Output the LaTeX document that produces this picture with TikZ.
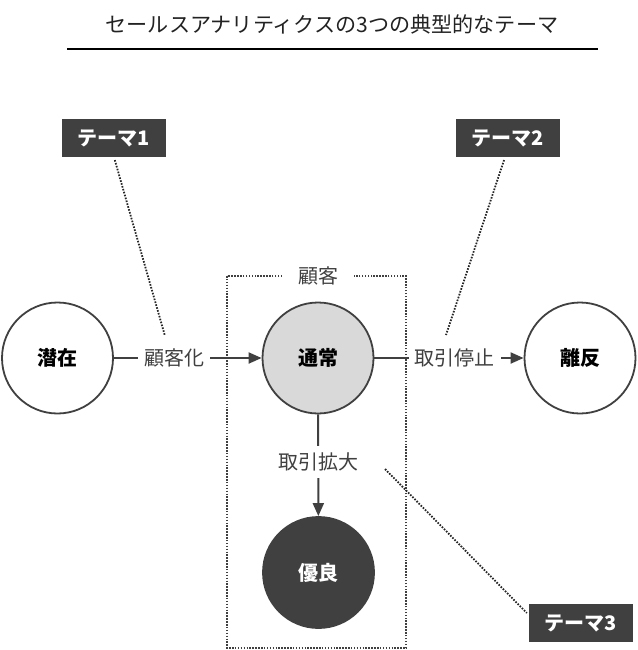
\documentclass[tikz,border=0pt]{standalone}
\usepackage{fontspec}
\setmainfont{Noto Sans CJK JP}
\usetikzlibrary{arrows.meta}
\definecolor{dk}{HTML}{404040}
\definecolor{lg}{HTML}{D9D9D9}
\definecolor{ttl}{HTML}{222222}
\begin{document}
\begin{tikzpicture}[x=1pt,y=1pt,
 circ/.style={circle,draw=dk,line width=1.8pt,minimum size=111pt,inner sep=0pt,font=\fontsize{20}{23}\selectfont\bfseries},
 themebox/.style={fill=dk,text=white,minimum width=104pt,minimum height=38pt,inner sep=0pt,font=\fontsize{20}{23}\selectfont\bfseries},
 conn/.style={draw=dk,line width=2pt,-{Triangle[length=13pt,width=11pt]}},
 lbl/.style={fill=white,text=dk,inner xsep=6pt,inner ysep=7pt,font=\fontsize{20}{23}\selectfont},
 dotline/.style={line width=1.8pt,dash pattern=on 1.6pt off 1.4pt,draw=black!85},
 dotrect/.style={line width=1.6pt,dash pattern=on 1.5pt off 1.4pt,draw=dk},
]
\useasboundingbox (0,0) rectangle (637,-650);
% title
\node[text=ttl,font=\fontsize{21.1}{25}\selectfont] (title) at (332,-24) {セールスアナリティクスの3つの典型的なテーマ};
\coordinate (r1) at (67,-49);
\coordinate (r2) at (598,-49);
\draw[line width=2pt,black] (r1) -- (r2);
% group box
\draw[dotrect] (227,-276) rectangle (406,-648);
\node[fill=white,text=dk,inner xsep=16pt,inner ysep=2pt,font=\fontsize{20}{23}\selectfont] (grp) at (318,-276) {顧客};
% circles
\node[circ,fill=white] (sen) at (57.5,-358) {潜在};
\node[circ,fill=lg] (tsu) at (318,-358) {通常};
\node[circ,fill=white] (ri) at (580,-358) {離反};
\node[circ,fill=dk,text=white] (yu) at (318.5,-572.5) {優良};
% connectors
\draw[conn] (sen) -- node[lbl,pos=0.41] {顧客化} (tsu);
\draw[conn] (tsu) -- node[lbl,pos=0.54] {取引停止} (ri);
\draw[conn] (tsu) -- node[lbl,pos=0.47] {取引拡大} (yu);
% themes
\node[themebox] (t1) at (114,-138) {テーマ1};
\node[themebox] (t2) at (508,-138) {テーマ2};
\node[themebox] (t3) at (581,-623) {テーマ3};
\coordinate (c1) at (165,-336);
\coordinate (c2) at (446,-335);
\coordinate (c3) at (385,-469);
\draw[dotline,shorten <=3pt] (t1.south) -- (c1);
\draw[dotline,shorten <=3pt] ([xshift=-3pt]t2.south) -- (c2);
\draw[dotline] (c3) -- ([yshift=10pt,xshift=-2pt]t3.west);
\end{tikzpicture}
\end{document}
